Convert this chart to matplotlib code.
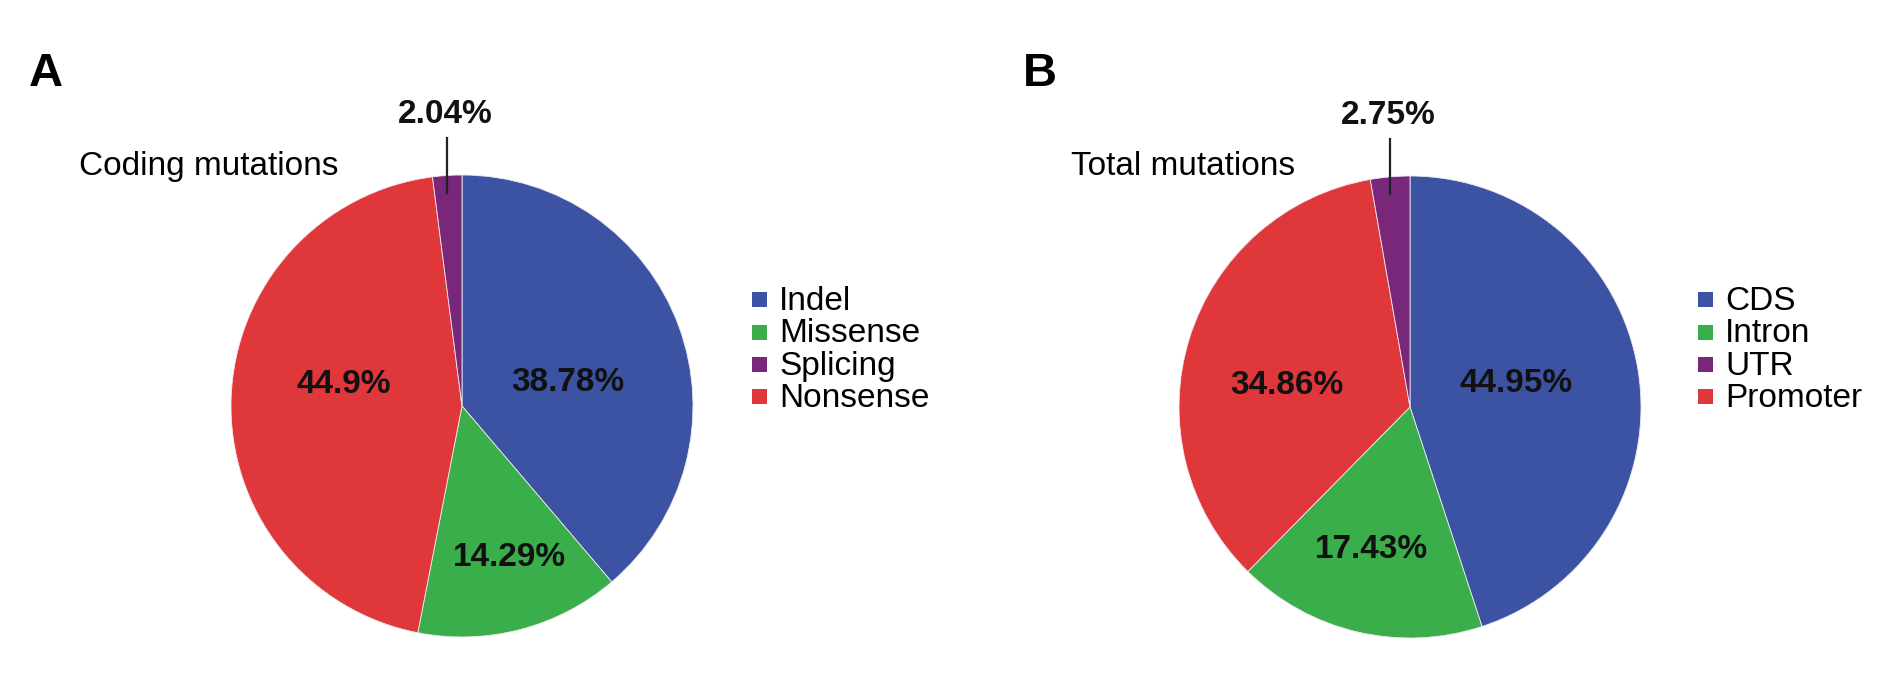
import matplotlib.pyplot as plt
from matplotlib.patches import Rectangle
import numpy as np

plt.rcParams['font.family'] = ['Liberation Sans', 'DejaVu Sans']

# ---- data ----
coding_labels = ['Indel', 'Missense', 'Splicing', 'Nonsense']
coding_values = [38.78, 14.29, 2.04, 44.9]
coding_pcts = ['38.78%', '14.29%', '2.04%', '44.9%']

total_labels = ['CDS', 'Intron', 'UTR', 'Promoter']
total_values = [44.95, 17.43, 2.75, 34.86]
total_pcts = ['44.95%', '17.43%', '2.75%', '34.86%']

# clockwise drawing order from 12 o'clock (legend order differs)
draw_order = [0, 1, 3, 2]

colors = ['#3b53a2', '#39ae4a', '#78277a', '#e0373a']

W, H = 1892, 683
fig = plt.figure(figsize=(W / 100, H / 100), dpi=100)
fig.patch.set_facecolor('white')


def pie_panel(cx, cy, r, labels, values, pcts, inner_pos, small_idx,
              letter, letter_x, title, title_x, leg_x):
    ax = fig.add_axes([(cx - r) / W, (H - cy - r) / H, 2 * r / W, 2 * r / H])
    vals = [values[i] for i in draw_order]
    cols = [colors[i] for i in draw_order]
    wedges, _ = ax.pie(vals, colors=cols, startangle=90, counterclock=False,
                       wedgeprops=dict(edgecolor='#f0e8f0', linewidth=0.6))
    ax.set_xlim(-1, 1)
    ax.set_ylim(-1, 1)
    ax.set_aspect('equal')
    ax.axis('off')

    # inside labels
    for i, (x, y) in inner_pos.items():
        ax.text(x, y, pcts[i], ha='center', va='center', fontsize=24,
                fontweight='bold', color='#111111')

    # small slice: label above with leader line
    w = wedges[draw_order.index(small_idx)]
    mid = np.deg2rad((w.theta1 + w.theta2) / 2)
    lx = np.cos(mid)
    ax.plot([lx, lx], [0.92, 1.16], color='#222222', lw=1.6, clip_on=False)
    ax.text(lx - 0.01, 1.26, pcts[small_idx], ha='center', va='center',
            fontsize=24, fontweight='bold', color='#111111', clip_on=False)

    fig.text(letter_x / W, 1 - 86 / H, letter, fontsize=34, fontweight='bold',
             ha='left', va='baseline')
    fig.text(title_x / W, 1 - 175 / H, title, fontsize=24, ha='left',
             va='baseline')

    # legend
    for k, lab in enumerate(labels):
        yc = 300 + 32.3 * k
        fig.patches.append(Rectangle((leg_x / W, 1 - (yc + 7.5) / H), 15 / W,
                                     15 / H, transform=fig.transFigure,
                                     facecolor=colors[k], edgecolor='none'))
        fig.text((leg_x + 27) / W, 1 - (yc + 10) / H, lab, fontsize=24,
                 ha='left', va='baseline')


pie_panel(462, 406, 231, coding_labels, coding_values, coding_pcts,
          {0: (0.459, 0.10), 1: (0.206, -0.658), 3: (-0.513, 0.095)}, 2,
          'A', 29, 'Coding mutations', 79, 752)

pie_panel(1410, 407, 231, total_labels, total_values, total_pcts,
          {0: (0.459, 0.10), 1: (-0.165, -0.619), 3: (-0.532, 0.091)}, 2,
          'B', 1023, 'Total mutations', 1071, 1698)

fig.savefig('out.png', dpi=100, facecolor='white')
